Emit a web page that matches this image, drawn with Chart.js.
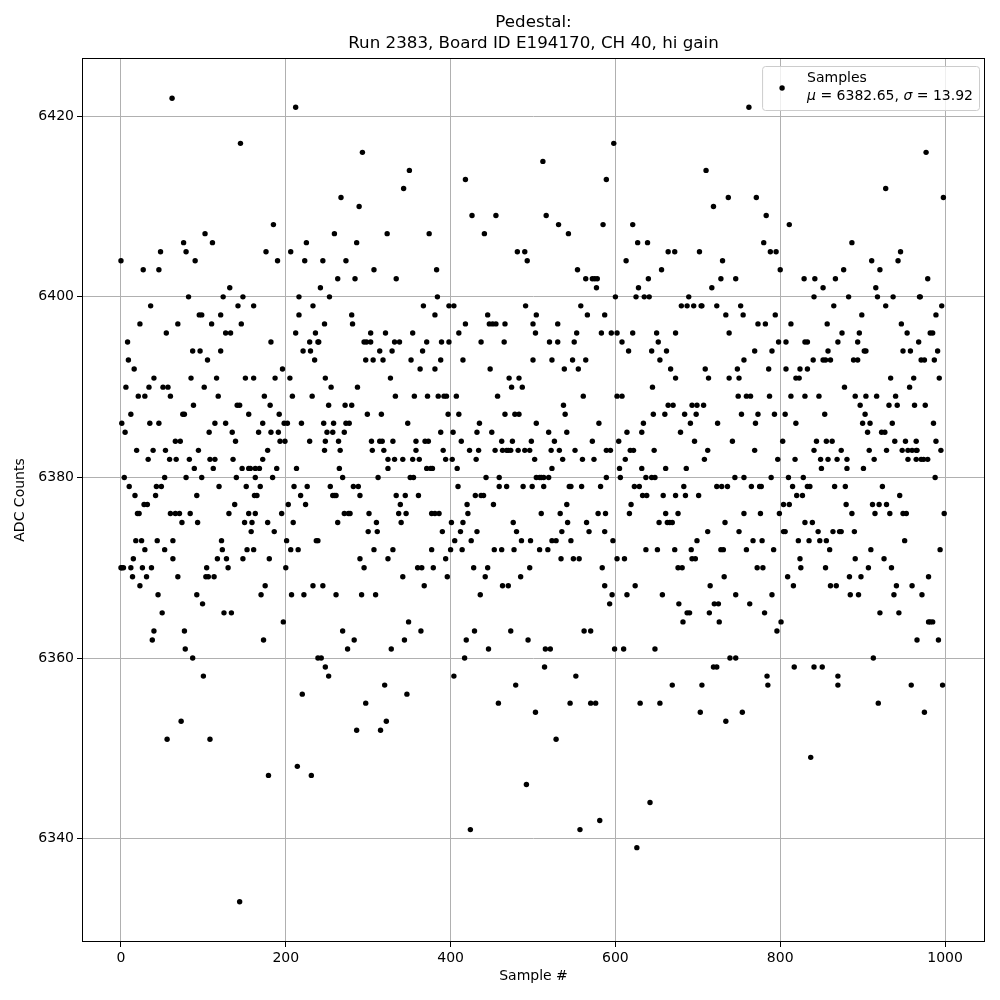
<!DOCTYPE html>
<html>
<head>
<meta charset="utf-8">
<title>Pedestal</title>
<script src="https://cdn.jsdelivr.net/npm/chart.js@4.4.1/dist/chart.umd.min.js"></script>
<style>
  html, body { margin: 0; padding: 0; background: #fff; }
  #wrap { width: 1000px; height: 1000px; }
</style>
</head>
<body>
<div id="wrap"><canvas id="pedChart" width="1000" height="1000"></canvas></div>
<script>
const titleLines = ['Pedestal:', 'Run 2383, Board ID E194170, CH 40, hi gain'];
const seriesLabel = 'Samples';
const statsParts = [['μ', true], [' = 6382.65, ', false], ['σ', true], [' = 13.92', false]];
const xTitle = 'Sample #';
const yTitle = 'ADC Counts';
const xTicks = [0, 200, 400, 600, 800, 1000];
const yTicks = [6340, 6360, 6380, 6400, 6420];

// sample index of each dot
const sampleNo = [
  62,76,0,48,79,27,46,36,23,69,
  55,8,9,16,40,6,34,51,57,21,
  29,60,12,75,77,1,35,46,5,66,
  72,19,39,54,33,59,67,4,53,79,
  10,43,49,17,42,28,32,20,22,60,
  66,71,74,18,25,44,63,29,53,15,
  63,0,1,3,12,26,37,14,31,69,
  23,45,50,40,77,38,78,73,56,
  // 80 - 165
  145,102,111,90,132,82,124,148,142,161,
  95,98,121,110,146,127,133,87,96,121,
  105,85,116,151,161,101,118,88,141,144,
  155,114,127,107,135,139,94,83,108,114,
  136,89,112,147,155,157,163,98,140,163,
  92,119,152,162,138,84,131,155,163,93,
  150,159,158,122,123,153,161,117,128,148,
  130,104,103,106,113,92,99,125,134,87,
  100,108,144,
  // 165 - 250
  212,185,225,176,206,190,223,245,242,216,
  216,233,247,212,236,229,239,240,182,221,
  230,235,196,187,205,248,174,208,232,181,
  192,172,198,202,219,246,167,182,191,193,
  199,229,248,178,247,172,168,189,213,184,
  169,210,226,165,218,203,224,195,178,209,
  186,201,237,239,206,215,180,200,175,233,
  245,170,207,222,197,173,239,243,248,220,
  179,214,231,
  // 250 - 335
  293,267,289,259,286,323,273,307,263,284,
  334,253,280,281,303,321,295,298,303,332,
  314,329,297,306,318,327,255,287,333,252,
  272,280,299,316,258,273,277,250,271,257,
  264,304,314,317,330,266,305,319,324,332,
  265,324,269,312,254,282,288,257,259,261,
  290,334,271,276,278,301,263,310,300,311,
  307,330,290,324,295,261,292,309,269,283,
  275,328,252,320,297,286,322,315,
  // 335 - 420
  350,343,418,374,383,384,367,398,404,381,
  418,354,410,338,371,389,398,366,352,388,
  415,363,381,356,372,385,392,395,407,397,
  410,348,388,403,358,369,373,413,358,391,
  342,354,362,394,402,371,376,378,408,351,
  355,409,345,361,339,337,346,377,381,386,
  340,401,415,390,412,405,377,400,414,394,
  379,360,365,342,396,368,349,344,364,419,
  417,404,347,
  // 420 - 505
  426,455,441,481,490,493,491,445,447,451,
  455,466,500,504,437,465,503,500,448,471,
  483,474,487,457,466,478,483,504,435,432,
  450,462,475,498,423,434,454,463,468,470,
  473,482,490,496,431,502,443,459,504,459,
  468,488,499,430,437,440,420,452,421,476,
  432,480,425,486,497,453,462,477,428,445,
  496,442,485,463,470,436,429,473,494,446,
  479,458,503,492,424,
  // 505 - 590
  512,589,516,531,543,585,554,564,572,575,
  578,577,558,566,587,530,553,583,520,530,
  550,523,548,564,538,555,561,537,539,580,
  519,541,526,572,522,532,551,589,536,560,
  574,523,508,510,513,519,589,513,544,546,
  559,582,541,510,533,579,588,542,565,535,
  568,587,523,528,546,508,518,534,549,556,
  584,587,562,570,515,521,514,552,545,570,
  576,528,557,581,
  // 590 - 675
  598,621,627,639,664,672,613,656,640,628,
  600,625,635,641,595,602,621,650,673,608,
  652,616,644,662,654,667,673,645,602,608,
  664,670,634,646,660,614,632,604,594,618,
  622,647,612,605,632,661,606,637,644,648,
  623,629,633,638,658,673,619,617,661,653,
  663,666,669,597,637,651,672,602,611,624,
  596,614,657,593,599,610,648,669,630,654,
  642,626,
  // 675 - 760
  710,737,719,702,730,717,728,746,689,680,
  687,695,704,705,723,752,734,755,738,756,
  709,748,713,738,750,749,759,684,698,693,
  699,707,753,691,724,679,696,742,712,708,
  686,745,756,683,723,729,736,685,701,676,
  756,733,712,750,699,692,728,731,759,693,
  697,676,681,732,715,746,677,720,725,687,
  690,714,682,726,739,746,719,723,705,703,
  754,734,
  // 760 - 845
  762,771,783,811,780,788,795,800,829,842,
  841,794,773,782,813,798,807,830,833,769,
  790,840,786,807,824,833,819,823,764,787,
  813,830,773,793,806,770,819,803,844,769,
  841,797,818,789,810,828,765,775,777,815,
  833,836,820,827,804,811,776,799,830,839,
  804,806,767,778,822,835,792,824,772,779,
  825,809,816,763,790,781,801,796,817,841,
  784,785,837,
  // 845 - 930
  928,887,911,877,921,867,852,916,883,918,
  928,865,899,857,875,896,870,894,858,902,
  904,852,855,861,889,894,878,847,891,904,
  917,897,854,903,900,909,906,923,927,856,
  863,874,908,929,849,858,869,881,914,850,
  881,901,866,879,924,880,912,920,929,887,
  915,846,864,872,874,890,848,856,860,910,
  891,926,855,907,884,898,861,868,885,895,
  921,913,851,870,870,919,
  // 930 - 999
  977,998,946,943,979,937,969,970,996,989,
  947,954,982,985,968,949,958,991,971,975,
  987,934,962,993,957,940,932,942,963,976,
  936,986,939,952,965,989,948,955,960,965,
  966,995,955,965,971,974,979,988,945,949,
  953,933,999,951,994,935,980,941,960,938,
  972,944,980,982,985,966,992,959,997,975
];

// ADC counts, same order as sampleNo
const adcCounts = [
  6422,6406,6404,6405,6405,6403,6403,6399,6397,6397,
  6396,6395,6393,6392,6391,6390,6390,6390,6390,6389,
  6389,6389,6387,6387,6387,6386,6386,6386,6385,6384,
  6384,6383,6383,6383,6382,6382,6382,6380,6380,6380,
  6379,6379,6379,6378,6378,6377,6377,6376,6376,6376,
  6376,6376,6375,6373,6373,6373,6373,6372,6372,6371,
  6371,6370,6370,6370,6370,6370,6370,6369,6369,6369,
  6368,6367,6365,6363,6363,6362,6361,6353,6351,
  // 80 - 165
  6417,6407,6406,6404,6401,6400,6400,6400,6399,6399,
  6398,6398,6398,6397,6397,6396,6396,6394,6394,6394,
  6393,6391,6391,6391,6391,6390,6389,6388,6388,6388,
  6387,6386,6386,6385,6385,6384,6383,6382,6382,6382,
  6382,6381,6381,6381,6381,6381,6381,6380,6380,6380,
  6378,6379,6379,6378,6377,6376,6376,6376,6376,6375,
  6375,6375,6374,6373,6372,6372,6372,6371,6371,6371,
  6370,6370,6369,6369,6369,6367,6366,6365,6365,6360,
  6358,6351,6333,
  // 165 - 250
  6421,6408,6406,6405,6405,6404,6404,6404,6401,6400,
  6398,6399,6397,6396,6396,6395,6395,6395,6395,6394,
  6394,6393,6392,6391,6391,6391,6389,6389,6389,6388,
  6387,6386,6386,6386,6386,6386,6385,6385,6385,6384,
  6384,6384,6384,6383,6383,6382,6381,6381,6381,6380,
  6379,6379,6379,6378,6378,6377,6377,6376,6375,6375,
  6374,6373,6373,6373,6372,6372,6371,6370,6368,6368,
  6368,6367,6367,6367,6364,6362,6360,6360,6359,6356,
  6347,6348,6347,
  // 250 - 335
  6416,6411,6410,6407,6406,6407,6404,6403,6402,6402,
  6402,6400,6398,6397,6396,6396,6395,6395,6395,6395,
  6394,6394,6393,6393,6393,6391,6390,6390,6389,6388,
  6388,6388,6387,6387,6386,6386,6386,6385,6385,6385,
  6384,6384,6384,6384,6384,6383,6383,6383,6382,6382,
  6381,6381,6380,6380,6379,6379,6379,6378,6378,6378,
  6378,6378,6376,6376,6376,6376,6375,6375,6374,6374,
  6372,6372,6371,6371,6370,6367,6367,6367,6363,6362,
  6361,6361,6358,6357,6355,6352,6353,6352,
  // 335 - 420
  6414,6412,6413,6407,6403,6400,6399,6399,6399,6398,
  6397,6396,6396,6395,6395,6395,6395,6394,6393,6393,
  6393,6392,6392,6389,6389,6389,6389,6389,6389,6387,
  6387,6386,6385,6385,6384,6384,6384,6384,6383,6383,
  6382,6382,6382,6382,6382,6381,6381,6381,6381,6380,
  6380,6379,6378,6378,6377,6376,6376,6376,6376,6376,
  6375,6375,6375,6374,6374,6373,6372,6372,6372,6371,
  6370,6370,6370,6369,6369,6368,6364,6362,6363,6362,
  6360,6358,6356,
  // 420 - 505
  6409,6409,6407,6405,6405,6404,6399,6398,6397,6397,
  6397,6397,6397,6398,6395,6395,6396,6393,6392,6391,
  6391,6390,6390,6389,6387,6387,6387,6386,6386,6385,
  6385,6384,6384,6384,6383,6383,6383,6383,6383,6383,
  6383,6383,6383,6383,6382,6382,6380,6380,6380,6379,
  6379,6379,6379,6378,6378,6378,6377,6377,6376,6375,
  6374,6374,6373,6373,6373,6372,6372,6372,6370,6370,
  6370,6369,6369,6368,6368,6367,6363,6363,6362,6361,
  6357,6355,6354,6346,6341,
  // 505 - 590
  6415,6413,6409,6408,6407,6408,6403,6402,6402,6402,
  6402,6401,6399,6398,6398,6397,6396,6396,6395,6395,
  6395,6393,6393,6393,6392,6392,6389,6388,6387,6386,
  6385,6385,6384,6384,6383,6383,6383,6383,6382,6382,
  6382,6381,6380,6380,6380,6380,6380,6379,6379,6379,
  6379,6379,6377,6376,6376,6376,6376,6375,6375,6374,
  6374,6374,6373,6373,6373,6372,6372,6371,6371,6371,
  6370,6368,6363,6363,6361,6361,6359,6358,6355,6355,
  6355,6351,6341,6342,
  // 590 - 675
  6417,6408,6406,6406,6405,6405,6404,6403,6402,6401,
  6400,6400,6400,6400,6396,6396,6396,6396,6396,6395,
  6395,6394,6394,6394,6393,6392,6391,6390,6389,6389,
  6388,6388,6386,6387,6387,6385,6385,6384,6383,6383,
  6383,6383,6382,6381,6381,6381,6380,6380,6380,6380,
  6379,6379,6378,6378,6378,6378,6377,6376,6376,6375,
  6375,6375,6375,6373,6372,6372,6372,6371,6371,6368,
  6367,6367,6367,6366,6361,6361,6361,6357,6355,6355,
  6344,6339,
  // 675 - 760
  6414,6411,6410,6405,6404,6401,6402,6402,6400,6399,
  6399,6399,6399,6399,6399,6399,6398,6398,6396,6393,
  6392,6392,6391,6391,6391,6389,6389,6387,6387,6388,
  6388,6388,6387,6386,6386,6385,6384,6384,6383,6382,
  6381,6380,6380,6379,6379,6379,6379,6378,6378,6376,
  6376,6375,6374,6374,6373,6372,6372,6372,6372,6371,
  6371,6370,6370,6369,6368,6367,6366,6366,6366,6365,
  6365,6365,6364,6364,6360,6360,6359,6359,6357,6354,
  6354,6353,
  // 760 - 845
  6421,6411,6409,6408,6406,6405,6405,6403,6402,6402,
  6400,6398,6397,6397,6397,6395,6395,6395,6395,6394,
  6394,6393,6392,6392,6392,6392,6391,6391,6389,6389,
  6389,6389,6387,6387,6387,6386,6386,6384,6384,6383,
  6383,6382,6382,6380,6380,6380,6379,6379,6379,6379,
  6379,6379,6378,6378,6377,6377,6376,6376,6375,6375,
  6374,6374,6373,6373,6373,6373,6372,6371,6370,6370,
  6370,6369,6368,6366,6367,6365,6364,6363,6359,6359,
  6358,6357,6349,
  // 845 - 930
  6412,6406,6404,6403,6403,6402,6401,6401,6400,6400,
  6399,6399,6398,6397,6396,6396,6395,6395,6394,6394,
  6394,6393,6393,6393,6393,6393,6390,6389,6389,6389,
  6389,6388,6387,6387,6386,6386,6385,6385,6385,6384,
  6384,6383,6383,6383,6382,6382,6382,6382,6382,6381,
  6381,6381,6379,6379,6379,6377,6377,6377,6377,6376,
  6376,6374,6374,6374,6374,6374,6373,6373,6372,6372,
  6371,6371,6370,6370,6369,6369,6368,6368,6367,6367,
  6365,6360,6359,6358,6357,6355,
  // 930 - 999
  6416,6411,6405,6404,6402,6400,6400,6400,6399,6398,
  6397,6396,6396,6396,6395,6394,6394,6394,6393,6393,
  6393,6391,6391,6391,6390,6389,6388,6388,6388,6388,
  6386,6386,6384,6384,6384,6384,6383,6383,6383,6383,
  6383,6383,6382,6382,6382,6382,6382,6380,6378,6376,
  6376,6376,6376,6373,6372,6370,6369,6368,6368,6367,
  6367,6365,6364,6364,6364,6362,6362,6357,6357,6354
];

const FONT = "'DejaVu Sans', 'Liberation Sans', sans-serif";

const points = sampleNo.map((s, i) => ({ x: s, y: adcCounts[i] }));

// full black frame round the plot area (matplotlib spines)
const framePlugin = {
  id: 'frame',
  afterDatasetsDraw(chart) {
    const { ctx, chartArea: a } = chart;
    ctx.save();
    ctx.strokeStyle = '#000';
    ctx.lineWidth = 1;
    ctx.strokeRect(a.left + 0.5, a.top + 0.5, a.right - a.left - 1, a.bottom - a.top - 1);
    ctx.restore();
  }
};

// two-line title centred over the plot area
const titlePlugin = {
  id: 'twoLineTitle',
  afterDraw(chart) {
    const { ctx, chartArea: a } = chart;
    const cx = (a.left + a.right) / 2;
    ctx.save();
    ctx.fillStyle = '#000';
    ctx.font = '16.7px ' + FONT;
    ctx.textAlign = 'center';
    ctx.textBaseline = 'middle';
    ctx.fillText(titleLines[0], cx, 23);
    ctx.fillText(titleLines[1], cx, 44);
    ctx.restore();
  }
};

// legend box, upper right
const legendPlugin = {
  id: 'statsLegend',
  afterDraw(chart) {
    const { ctx, chartArea: a } = chart;
    const fs = 14;
    ctx.save();
    let w2 = 0;
    statsParts.forEach(([t, it]) => {
      ctx.font = (it ? 'italic ' : '') + fs + 'px ' + FONT;
      w2 += ctx.measureText(t).width;
    });
    ctx.font = fs + 'px ' + FONT;
    const w1 = ctx.measureText(seriesLabel).width;
    const textW = Math.max(w1, w2);
    const boxW = 45 + textW + 6;
    const boxH = 44;
    const right = a.right - 6;
    const left = right - boxW;
    const top = a.top + 8;

    ctx.beginPath();
    ctx.roundRect(left + 0.5, top + 0.5, boxW, boxH, 3);
    ctx.fillStyle = 'rgba(255,255,255,0.8)';
    ctx.fill();
    ctx.strokeStyle = '#cccccc';
    ctx.lineWidth = 1;
    ctx.stroke();

    ctx.beginPath();
    ctx.arc(left + 20, top + 22, 2.7, 0, Math.PI * 2);
    ctx.fillStyle = '#000';
    ctx.fill();

    ctx.fillStyle = '#000';
    ctx.textBaseline = 'middle';
    ctx.textAlign = 'left';
    const tx = left + 45;
    ctx.fillText(seriesLabel, tx, top + 12);
    let x = tx;
    statsParts.forEach(([t, it]) => {
      ctx.font = (it ? 'italic ' : '') + fs + 'px ' + FONT;
      ctx.fillText(t, x, top + 30);
      x += ctx.measureText(t).width;
    });
    ctx.restore();
  }
};

new Chart(document.getElementById('pedChart'), {
  type: 'scatter',
  data: {
    datasets: [{
      label: seriesLabel,
      data: points,
      backgroundColor: '#000',
      borderWidth: 0,
      pointRadius: 2.7,
      pointHoverRadius: 2.7
    }]
  },
  options: {
    responsive: false,
    animation: false,
    events: [],
    layout: { padding: { top: 58, right: 15, left: 0, bottom: 0 } },
    plugins: {
      legend: { display: false },
      title: { display: false },
      tooltip: { enabled: false }
    },
    scales: {
      x: {
        type: 'linear',
        min: -47.3,
        max: 1048.5,
        afterFit: s => { s.height = 58; },
        afterBuildTicks: s => { s.ticks = xTicks.map(v => ({ value: v })); },
        ticks: {
          color: '#000',
          font: { family: FONT, size: 14 },
          padding: 3,
          maxRotation: 0,
          callback: v => v
        },
        grid: { color: '#b0b0b0', lineWidth: 1, tickColor: '#000', tickLength: 5 },
        border: { display: false },
        title: {
          display: true,
          text: xTitle,
          color: '#000',
          font: { family: FONT, size: 14 },
          padding: { top: 0, bottom: 15 }
        }
      },
      y: {
        type: 'linear',
        min: 6328.55,
        max: 6426.45,
        afterFit: s => { s.width = 82; },
        afterBuildTicks: s => { s.ticks = yTicks.map(v => ({ value: v })); },
        ticks: {
          color: '#000',
          font: { family: FONT, size: 14 },
          padding: 3,
          callback: v => v
        },
        grid: { color: '#b0b0b0', lineWidth: 1, tickColor: '#000', tickLength: 5 },
        border: { display: false },
        title: {
          display: true,
          text: yTitle,
          color: '#000',
          font: { family: FONT, size: 14 },
          padding: { top: 12, bottom: 0 }
        }
      }
    }
  },
  plugins: [framePlugin, titlePlugin, legendPlugin]
});
</script>
</body>
</html>
